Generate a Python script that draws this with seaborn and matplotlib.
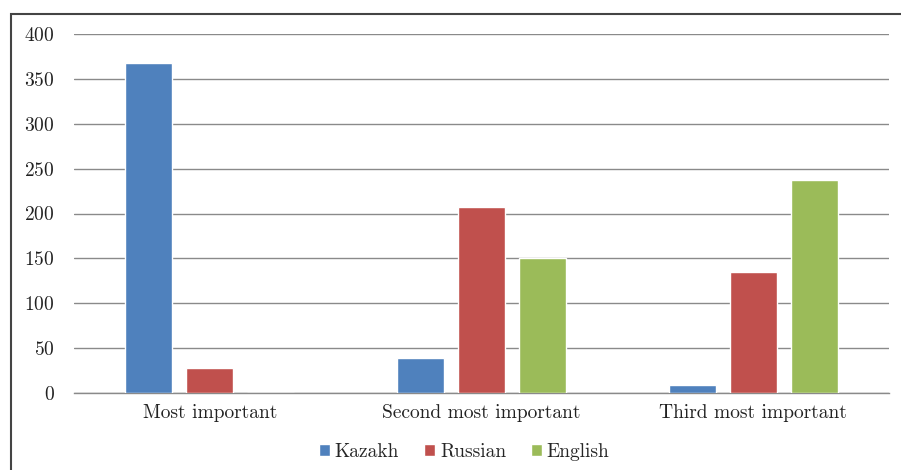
import pandas as pd
import matplotlib
matplotlib.use("Agg")
import matplotlib.pyplot as plt
import seaborn as sns
from matplotlib.patches import Rectangle

# Donnees
categories = ["Most important", "Second most important", "Third most important"]
langues = ["Kazakh", "Russian", "English"]
kazakh = [368, 39, 9]
russian = [28, 207, 135]
english = [0, 150, 237]
couleurs = ["#4F81BD", "#C0504D", "#9BBB59"]

df = pd.DataFrame({
    "Categorie": categories * 3,
    "Langue": [l for l in langues for _ in categories],
    "Valeur": kazakh + russian + english,
})

sns.set_style("white")
plt.rcParams["font.family"] = ["cmr10", "DejaVu Serif"]
plt.rcParams["axes.formatter.use_mathtext"] = True

fig = plt.figure(figsize=(9.01, 4.70), dpi=100)
ax = fig.add_axes([74 / 901, 1 - 393 / 470, (889 - 74) / 901, (393 - 34) / 470])

sns.barplot(data=df, x="Categorie", y="Valeur", hue="Langue", order=categories,
            hue_order=langues, palette=couleurs, width=0.672, gap=0.228,
            saturation=1, ax=ax, zorder=3)

ax.set_ylim(0, 400)
ax.set_xlim(-0.5, 2.5)
ax.set_yticks(range(0, 401, 50))
ax.yaxis.grid(True, color="#8a8a8a", linewidth=1, zorder=0)
ax.set_axisbelow(True)
for s in ["top", "right", "left"]:
    ax.spines[s].set_visible(False)
ax.spines["bottom"].set_color("#8a8a8a")
ax.spines["bottom"].set_linewidth(1)
ax.tick_params(axis="y", length=0, pad=14, labelsize=14, colors="#222222")
ax.tick_params(axis="x", length=0, pad=8, labelsize=14, colors="#222222")
ax.set_xlabel("")
ax.set_ylabel("")

leg = ax.legend(loc="upper center", bbox_to_anchor=(0.479, -0.09), ncol=3,
                frameon=False, fontsize=14, handlelength=0.55, handleheight=0.55,
                handletextpad=0.25, columnspacing=1.3)

# cadre autour du graphique
fig.patches.append(Rectangle((11 / 901, -0.05), 1.0, 1 - 14 / 470 + 0.05,
                             transform=fig.transFigure, fill=False,
                             edgecolor="#444444", linewidth=1.5))

fig.savefig("out.png", dpi=100)
